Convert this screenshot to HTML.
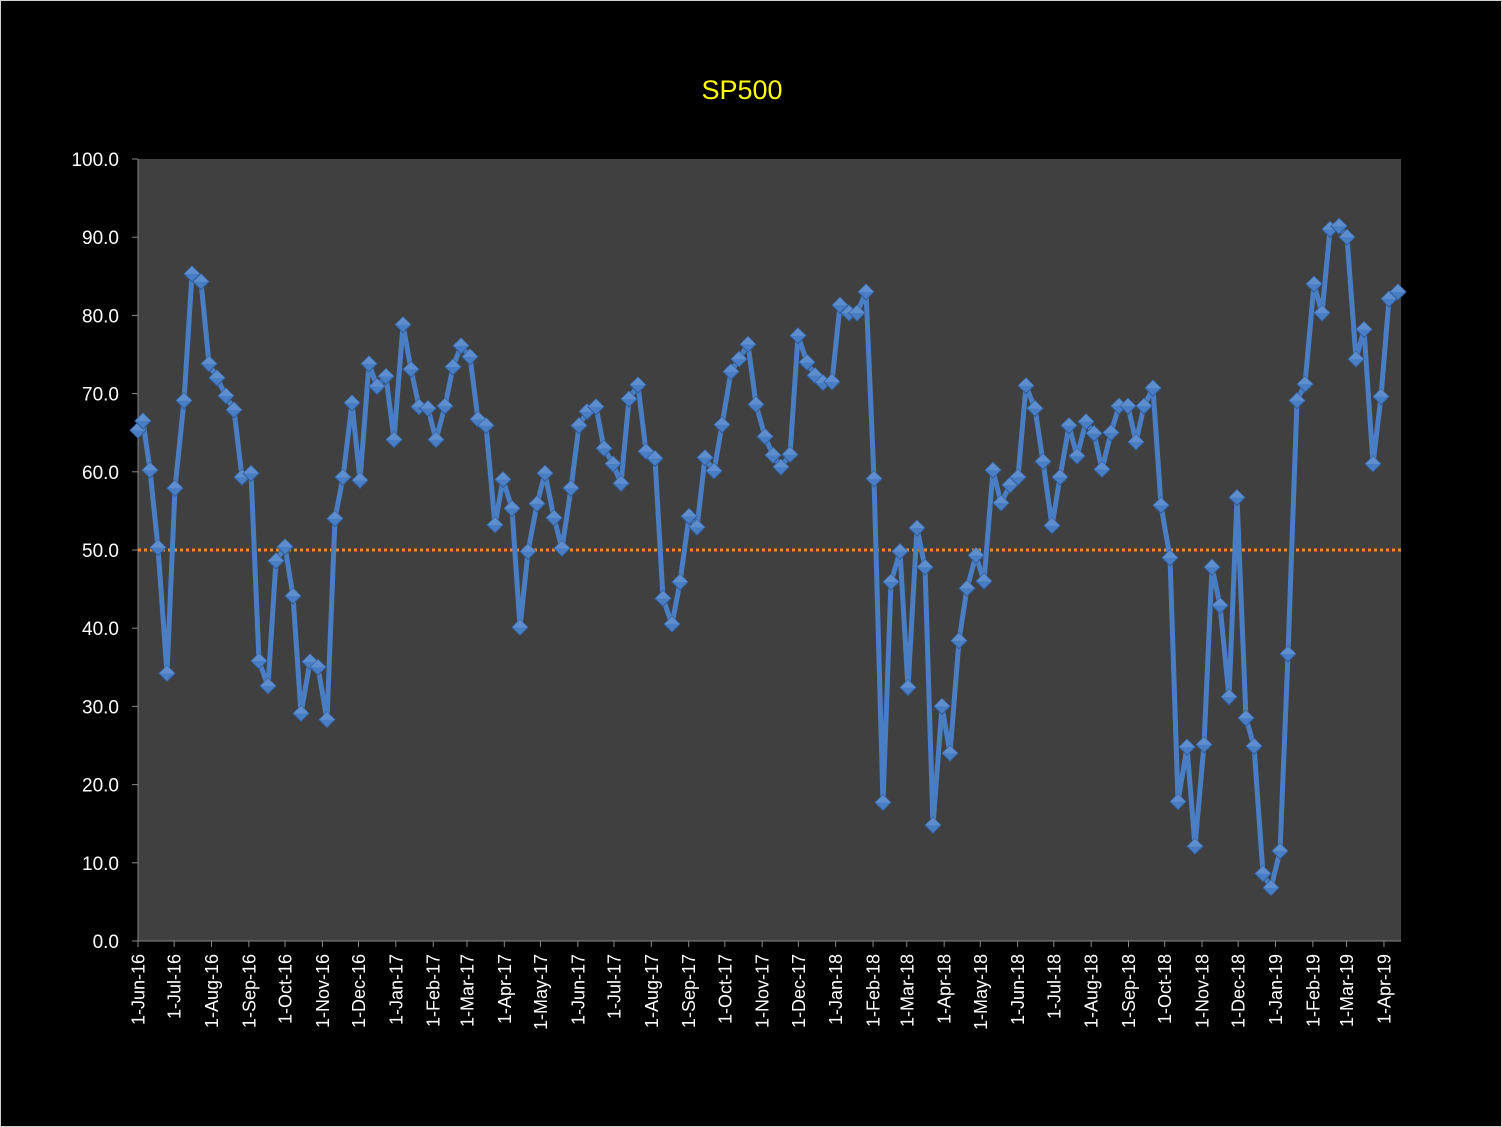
<!DOCTYPE html>
<html><head><meta charset="utf-8"><style>
html,body{margin:0;padding:0;background:#000;}
body{width:1502px;height:1127px;overflow:hidden;}
svg{display:block;}
text{font-family:"Liberation Sans",sans-serif;}
</style></head><body>
<svg id="s" width="1502" height="1127" xmlns="http://www.w3.org/2000/svg">
<rect x="0" y="0" width="1502" height="1127" fill="#000"/>
<rect x="0.5" y="0.5" width="1501" height="1126" fill="none" stroke="#d0d0d0" stroke-width="1"/>
<text x="742" y="99" fill="#ffff00" font-size="27" text-anchor="middle">SP500</text>
<rect x="138" y="159" width="1263" height="782" fill="#404040"/>
<g id="g"></g>
</svg>
<script>
var g=document.getElementById('g'),h='';
function Y(v){return 941-v*7.82;}
h+='<line x1="138" y1="159" x2="138" y2="941" stroke="#888" stroke-width="1"/>';
h+='<line x1="132" y1="941" x2="1401" y2="941" stroke="#888" stroke-width="1"/>';
for(var i=0;i<=10;i++){var y=Y(i*10);h+='<line x1="132" y1="'+y+'" x2="138" y2="'+y+'" stroke="#888"/>';
h+='<text x="119" y="'+(y+7)+'" fill="#fff" font-size="19" text-anchor="end">'+(i*10).toFixed(1)+'</text>';}
var days=[0,30,61,92,122,153,183,214,245,273,304,334,365,395,426,457,487,518,548,579,610,638,669,699,730,760,791,822,852,883,913,944,975,1003,1034];
var mn=['Jun','Jul','Aug','Sep','Oct','Nov','Dec','Jan','Feb','Mar','Apr','May'];
for(var k=0;k<days.length;k++){var x=138+days[k]*1.205;var m=mn[k%12];var yr=16+Math.floor((k+5)/12);
h+='<line x1="'+x+'" y1="941" x2="'+x+'" y2="947" stroke="#888"/>';
h+='<text transform="translate('+(x+6.5)+',954) rotate(-90)" fill="#fff" font-size="18" text-anchor="end">1-'+m+'-'+yr+'</text>';}
h+='<line x1="138" y1="'+Y(50)+'" x2="1403" y2="'+Y(50)+'" stroke="#f08a30" stroke-width="3" stroke-dasharray="3,3"/>';
var d=[[138,65.3],[143,66.5],[150,60.2],[158,50.3],[167,34.2],[175,57.9],[184,69.1],[192,85.3],[201,84.3],[209,73.8],[217,72.0],[226,69.7],[234,67.9],[242,59.3],[251,59.8],[259,35.8],[268,32.6],[276,48.6],[285,50.4],[293,44.1],[301,29.1],[310,35.7],[318,35.0],[327,28.3],[335,54.0],[343,59.3],[352,68.8],[360,58.9],[369,73.8],[377,70.9],[386,72.2],[394,64.1],[403,78.8],[411,73.1],[419,68.3],[428,68.1],[436,64.1],[445,68.4],[453,73.4],[461,76.1],[470,74.7],[478,66.7],[486,65.9],[495,53.2],[503,59.0],[512,55.3],[520,40.1],[528,49.8],[537,55.9],[545,59.8],[554,54.1],[562,50.2],[571,57.9],[579,65.9],[587,67.7],[596,68.3],[604,63.0],[613,61.0],[621,58.5],[629,69.3],[638,71.1],[646,62.6],[655,61.7],[663,43.8],[672,40.5],[680,45.9],[689,54.3],[697,52.9],[705,61.8],[714,60.1],[722,66.0],[731,72.8],[739,74.4],[748,76.3],[756,68.6],[765,64.5],[773,62.1],[781,60.6],[790,62.2],[798,77.4],[807,74.0],[815,72.3],[823,71.4],[832,71.5],[840,81.3],[849,80.3],[857,80.3],[866,83.0],[874,59.1],[883,17.7],[891,45.9],[900,49.8],[908,32.4],[917,52.8],[925,47.8],[933,14.8],[942,30.0],[950,24.0],[959,38.4],[967,45.1],[976,49.3],[984,46.0],[993,60.2],[1001,56.0],[1010,58.3],[1018,59.3],[1026,71.0],[1035,68.1],[1043,61.3],[1052,53.1],[1060,59.3],[1069,65.9],[1077,62.0],[1086,66.4],[1094,64.9],[1102,60.3],[1111,65.0],[1119,68.4],[1128,68.4],[1136,63.8],[1144,68.4],[1153,70.7],[1161,55.7],[1170,49.0],[1178,17.8],[1187,24.8],[1195,12.1],[1204,25.1],[1212,47.8],[1220,42.9],[1229,31.2],[1237,56.7],[1246,28.5],[1254,24.9],[1263,8.6],[1271,6.8],[1280,11.5],[1288,36.7],[1297,69.1],[1305,71.2],[1314,84.0],[1322,80.3],[1330,91.0],[1339,91.4],[1347,90.0],[1356,74.4],[1364,78.2],[1373,61.0],[1381,69.6],[1389,82.1],[1398,83.0]];
var p=d.map(function(a){return a[0]+','+Y(a[1]).toFixed(1)}).join(' ');
h+='<polyline points="'+p+'" fill="none" stroke="#4a7ec4" stroke-width="5" stroke-linejoin="round"/>';
d.forEach(function(a){var x=a[0],y=Y(a[1]);
h+='<polygon points="'+x+','+(y-8)+' '+(x+8)+','+y+' '+x+','+(y+8)+' '+(x-8)+','+y+'" fill="#4a7ec4" stroke="#2f5c99" stroke-width="1"/>';
h+='<polygon points="'+x+','+(y-8)+' '+(x+8)+','+y+' '+x+','+y+' '+(x-8)+','+y+'" fill="#6d9ad6" opacity="0.6"/>';});
g.innerHTML=h;
</script>
</body></html>
